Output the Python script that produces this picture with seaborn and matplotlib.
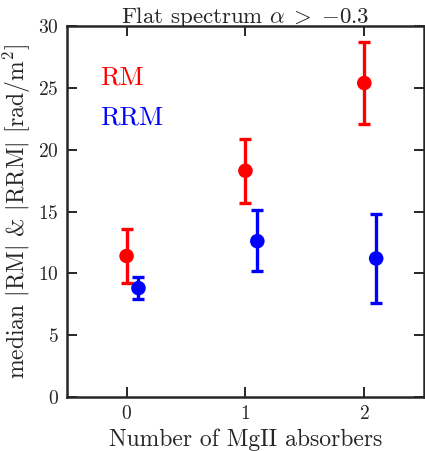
import matplotlib
matplotlib.use("Agg")
import matplotlib.pyplot as plt
import seaborn as sns
import pandas as pd
import numpy as np

# Median |RM| and |RRM| per number of MgII absorbers (flat-spectrum sources)
n_absorbers = [0, 1, 2]
rm_median = [11.4, 18.3, 25.4]
rm_low = [9.2, 15.7, 22.1]
rm_high = [13.6, 20.9, 28.7]
rrm_median = [8.8, 12.6, 11.2]
rrm_low = [7.9, 10.2, 7.6]
rrm_high = [9.7, 15.1, 14.8]
rrm_offset = 0.1

sns.set_style("ticks")
plt.rcParams.update({
    "font.family": "serif",
    "font.serif": ["cmr10"],
    "mathtext.fontset": "cm",
    "axes.formatter.use_mathtext": True,
    "axes.unicode_minus": False,
})

df = pd.DataFrame({
    "x": n_absorbers + [v + rrm_offset for v in n_absorbers],
    "val": rm_median + rrm_median,
    "lo": rm_low + rrm_low,
    "hi": rm_high + rrm_high,
    "kind": ["RM"] * 3 + ["RRM"] * 3,
})
colors = {"RM": "red", "RRM": "blue"}

fig = plt.figure(figsize=(4.25, 4.51), dpi=100)
ax = fig.add_axes([0.158, 0.12, 0.839, 0.822])

for kind, sub in df.groupby("kind"):
    yerr = np.vstack([sub["val"] - sub["lo"], sub["hi"] - sub["val"]])
    ax.errorbar(sub["x"], sub["val"], yerr=yerr, fmt="none", ecolor=colors[kind],
                elinewidth=2.4, capsize=4.6, capthick=2.4, zorder=2)

sns.scatterplot(data=df, x="x", y="val", hue="kind", palette=colors, s=110,
                edgecolor="none", legend=False, ax=ax, zorder=3)

ax.text(-0.22, 25.8, "RM", color="red", fontsize=19, va="center", ha="left")
ax.text(-0.22, 22.6, "RRM", color="blue", fontsize=19, va="center", ha="left")

ax.set_xlim(-0.5, 2.5)
ax.set_ylim(0, 30)
ax.set_xticks([0, 1, 2])
ax.set_yticks([0, 5, 10, 15, 20, 25, 30])
ax.tick_params(direction="in", top=True, right=True, length=7, width=1.4,
               labelsize=14, pad=6)
for s in ax.spines.values():
    s.set_linewidth(1.8)
    s.set_visible(True)

ax.set_xlabel("Number of MgII absorbers", fontsize=17, labelpad=4)
ax.set_ylabel(r"median $|\mathrm{RM}|$ & $|\mathrm{RRM}|$ $[\mathrm{rad/m^2}]$", fontsize=17)
ax.set_title(r"Flat spectrum $\alpha\;>\;{-}0.3$", fontsize=16.5, pad=2)

fig.savefig("out.png", dpi=100)
